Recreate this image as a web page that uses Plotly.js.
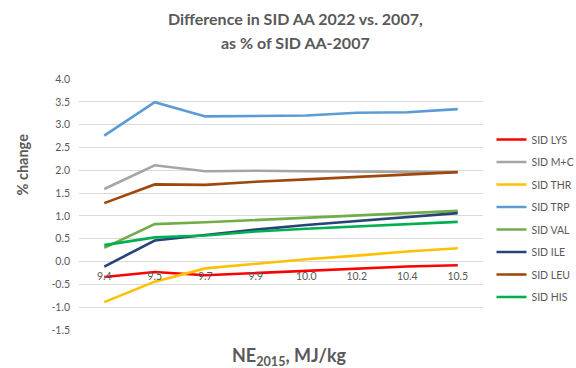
<!DOCTYPE html>
<html>
<head>
<meta charset="utf-8">
<script src="https://cdn.plot.ly/plotly-3.0.1.min.js"></script>
<style>
  html, body { margin: 0; padding: 0; background: #fff; }
  #chart { width: 576px; height: 368px; }
</style>
</head>
<body>
<div id="chart"></div>
<script>
// Net energy levels (NE2015, MJ/kg) used as categories
const energyLevels = ["9.4", "9.5", "9.7", "9.9", "10.0", "10.2", "10.4", "10.5"];

// % change of SID amino acid requirement, 2022 vs. 2007
const sidLys = [-0.34, -0.23, -0.30, -0.25, -0.20, -0.15, -0.11, -0.08];
const sidMC  = [1.59, 2.11, 1.98, 1.99, 1.98, 1.97, 1.96, 1.96];
const sidThr = [-0.89, -0.44, -0.15, -0.05, 0.05, 0.13, 0.22, 0.29];
const sidTrp = [2.76, 3.49, 3.18, 3.19, 3.20, 3.26, 3.27, 3.34];
const sidVal = [0.30, 0.82, 0.86, 0.91, 0.97, 1.01, 1.06, 1.11];
const sidIle = [-0.11, 0.46, 0.58, 0.70, 0.80, 0.89, 0.97, 1.06];
const sidLeu = [1.28, 1.69, 1.68, 1.75, 1.80, 1.85, 1.91, 1.96];
const sidHis = [0.36, 0.53, 0.57, 0.66, 0.72, 0.77, 0.81, 0.87];

const seriesNames = ["SID LYS", "SID M+C", "SID THR", "SID TRP", "SID VAL", "SID ILE", "SID LEU", "SID HIS"];
const seriesValues = [sidLys, sidMC, sidThr, sidTrp, sidVal, sidIle, sidLeu, sidHis];
const seriesColors = ["#ff0000", "#a5a5a5", "#ffc000", "#5b9bd5", "#70ad47", "#264478", "#9e480e", "#00b050"];

const yTicks = [-1.5, -1.0, -0.5, 0.0, 0.5, 1.0, 1.5, 2.0, 2.5, 3.0, 3.5, 4.0];

const textColor = "#595959";
const fontFamily = "Lato, 'Open Sans', sans-serif";

const traces = seriesNames.map((name, i) => ({
  type: "scatter",
  mode: "lines",
  name: name,
  legendgroup: name,
  x: energyLevels,
  y: seriesValues[i],
  line: { color: seriesColors[i], width: 2.6 },
  hoverinfo: "skip"
}));

const yMin = -1.5, yMax = 4.0;
const plotLeft = 78.5, plotRight = 483.5, plotTop = 79, plotBottom = 330;
const plotW = plotRight - plotLeft, plotH = plotBottom - plotTop;

const layout = {
  width: 576,
  height: 368,
  paper_bgcolor: "#ffffff",
  plot_bgcolor: "#ffffff",
  margin: { l: plotLeft, r: 576 - plotRight, t: plotTop, b: 368 - plotBottom, autoexpand: false },
  font: { family: fontFamily, color: textColor, size: 10 },
  showlegend: true,
  legend: {
    x: (492 - plotLeft) / plotW, xanchor: "left",
    y: 1 - (125 - plotTop) / plotH, yanchor: "top",
    font: { size: 10.5, color: textColor, family: fontFamily },
    tracegroupgap: 3.5,
    itemwidth: 30,
    bgcolor: "rgba(0,0,0,0)"
  },
  xaxis: {
    type: "category",
    tickvals: energyLevels,
    ticktext: energyLevels,
    anchor: "free",
    position: (0 - yMin) / (yMax - yMin),
    showgrid: false,
    showline: false,
    zeroline: false,
    ticks: "",
    ticklabelstandoff: 7,
    tickfont: { size: 10.5, color: textColor },
    range: [-0.5, energyLevels.length - 0.5]
  },
  yaxis: {
    range: [yMin, yMax],
    tickvals: yTicks,
    ticktext: yTicks.map(v => v.toFixed(1)),
    showgrid: true,
    gridcolor: "#d9d9d9",
    gridwidth: 1,
    zeroline: false,
    showline: false,
    ticks: "",
    ticklabelstandoff: 8,
    tickfont: { size: 10.5, color: textColor }
  },
  annotations: [
    {
      text: "<b>Difference in SID AA 2022 vs. 2007,</b>",
      xref: "paper", yref: "paper", x: (296 - plotLeft) / plotW, y: 1, yshift: plotTop - 18,
      xanchor: "center", yanchor: "middle", showarrow: false,
      font: { size: 16, color: textColor, family: fontFamily }
    },
    {
      text: "<b>as % of SID AA-2007</b>",
      xref: "paper", yref: "paper", x: (296 - plotLeft) / plotW, y: 1, yshift: plotTop - 42,
      xanchor: "center", yanchor: "middle", showarrow: false,
      font: { size: 16, color: textColor, family: fontFamily }
    },
    {
      text: "<b>% change</b>",
      xref: "paper", yref: "paper", x: 0, xshift: 21 - plotLeft,
      y: 1 - (165 - plotTop) / plotH,
      xanchor: "center", yanchor: "middle", textangle: -90, showarrow: false,
      font: { size: 14.5, color: textColor, family: fontFamily }
    },
    {
      text: "<b>NE<sub>2015</sub>, MJ/kg</b>",
      xref: "paper", yref: "paper", x: (290 - plotLeft) / plotW, y: 0, yshift: plotBottom - 356,
      xanchor: "center", yanchor: "middle", showarrow: false,
      font: { size: 18, color: textColor, family: fontFamily }
    }
  ]
};

Plotly.newPlot("chart", traces, layout, { displayModeBar: false, staticPlot: true });
</script>
</body>
</html>
